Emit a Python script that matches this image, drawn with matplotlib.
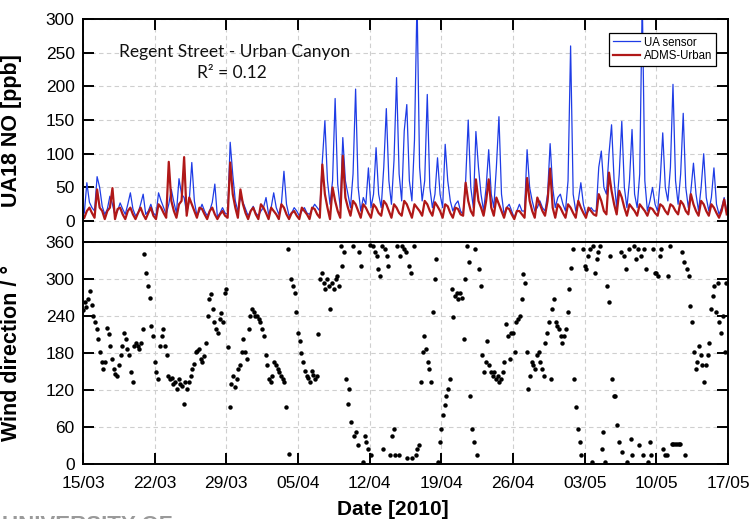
import numpy as np
import pandas as pd
import matplotlib
matplotlib.use('Agg')
import matplotlib.pyplot as plt
import matplotlib.dates as mdates

plt.rcParams['font.family'] = ['Liberation Sans', 'DejaVu Sans']

# NO [ppb], 4 readings per day (03, 09, 15, 21 h), one row per day from 15/03
ua_no = [
    [12, 57, 28, 20], [15, 66, 50, 22], [10, 18, 37, 25], [8, 15, 27, 18],
    [10, 25, 42, 18], [8, 12, 25, 40], [10, 15, 25, 12], [8, 42, 30, 20],
    [10, 25, 47, 28], [12, 63, 40, 35], [12, 30, 87, 30], [8, 15, 25, 15],
    [8, 15, 28, 55], [6, 12, 20, 12], [10, 117, 69, 30], [15, 35, 28, 18],
    [8, 15, 22, 12], [8, 15, 20, 35], [10, 20, 42, 20], [10, 25, 74, 25],
    [8, 12, 20, 15], [8, 15, 20, 12], [10, 18, 25, 20], [15, 89, 149, 60],
    [25, 60, 182, 55], [20, 124, 60, 40], [20, 70, 196, 50], [15, 35, 25, 79],
    [20, 40, 109, 40], [20, 80, 167, 60], [25, 90, 213, 70], [30, 134, 173, 60],
    [30, 120, 330, 80], [30, 60, 188, 50], [20, 40, 94, 40], [20, 114, 60, 30],
    [15, 25, 30, 15], [10, 60, 150, 50], [20, 133, 80, 40], [15, 50, 106, 40],
    [20, 80, 155, 40], [10, 20, 25, 15], [5, 15, 25, 15], [15, 106, 50, 30],
    [15, 20, 30, 20], [15, 40, 115, 50], [20, 35, 40, 25], [15, 60, 260, 40],
    [15, 30, 57, 25], [10, 15, 20, 15], [15, 80, 104, 50], [40, 100, 143, 60],
    [20, 70, 148, 50], [20, 60, 136, 40], [20, 70, 330, 60], [15, 30, 50, 25],
    [15, 60, 131, 50], [30, 80, 203, 60], [25, 70, 160, 50], [20, 45, 86, 40],
    [15, 50, 100, 35], [15, 35, 79, 25], [10, 20, 35, 15],
]
adms_no = [
    [5, 15, 20, 12], [5, 47, 20, 15], [3, 15, 20, 49], [3, 18, 20, 10],
    [3, 15, 20, 10], [3, 12, 20, 10], [3, 12, 20, 8], [3, 25, 20, 12],
    [5, 88, 30, 15], [5, 25, 30, 95], [8, 35, 25, 15], [5, 20, 18, 10],
    [3, 15, 20, 10], [3, 10, 15, 8], [5, 87, 40, 20], [5, 47, 25, 12],
    [3, 15, 20, 10], [3, 25, 20, 12], [3, 20, 15, 10], [3, 25, 20, 10],
    [3, 12, 15, 8], [3, 20, 15, 10], [3, 20, 18, 10], [5, 84, 40, 20],
    [3, 50, 30, 15], [5, 97, 35, 20], [8, 30, 25, 15], [5, 25, 20, 12],
    [5, 25, 20, 12], [8, 30, 25, 15], [5, 25, 20, 12], [8, 30, 25, 15],
    [5, 25, 20, 15], [8, 30, 25, 15], [8, 28, 22, 15], [5, 25, 22, 12],
    [5, 20, 18, 10], [8, 57, 30, 15], [8, 62, 30, 20], [8, 30, 62, 20],
    [8, 35, 25, 15], [5, 20, 18, 10], [3, 15, 15, 10], [5, 64, 30, 15],
    [5, 35, 25, 15], [8, 30, 78, 20], [5, 25, 20, 12], [5, 25, 20, 12],
    [5, 30, 20, 12], [5, 20, 15, 10], [8, 40, 30, 15], [10, 72, 45, 25],
    [10, 45, 35, 20], [8, 25, 20, 15], [8, 25, 20, 15], [8, 20, 18, 12],
    [8, 25, 22, 15], [10, 25, 22, 15], [10, 30, 25, 15], [10, 40, 25, 15],
    [8, 30, 25, 15], [8, 25, 20, 12], [5, 15, 32, 10],
]

# wind direction [deg], 6 readings per day (00, 04, 08, 12, 16, 20 h)
wind_dir = [
    [250, 262, 255, 268, 280, 258], [240, 230, 219, 203, 181, 165],
    [154, 165, 221, 210, 192, 170], [154, 146, 143, 160, 176, 192],
    [213, 203, 186, 176, 149, 133], [192, 197, 192, 186, 197, 219],
    [340, 310, 289, 270, 224, 208], [165, 149, 138, 192, 208, 219],
    [192, 176, 143, 138, 140, 130], [133, 122, 138, 130, 127, 98],
    [133, 122, 133, 143, 154, 162], [181, 184, 186, 170, 165, 175],
    [197, 240, 267, 275, 251, 230], [219, 213, 235, 245, 230, 278],
    [283, 189, 92, 130, 143, 125], [138, 154, 160, 181, 203, 181],
    [170, 219, 240, 251, 246, 240], [240, 235, 230, 219, 208, 176],
    [160, 138, 133, 143, 165, 160], [154, 149, 143, 138, 133, 92],
    [348, 16, 300, 289, 278, 246], [213, 200, 180, 165, 150, 143],
    [140, 133, 150, 145, 138, 143], [211, 300, 310, 294, 283, 300],
    [289, 251, 294, 283, 300, 305], [289, 353, 321, 343, 138, 98],
    [122, 68, 353, 46, 52, 30], [343, 321, 3, 46, 36, 25],
    [355, 14, 353, 343, 337, 316], [305, 353, 25, 348, 337, 321],
    [14, 46, 57, 14, 353, 14], [337, 353, 348, 343, 9, 321],
    [310, 9, 353, 14, 25, 30], [133, 181, 208, 186, 165, 154],
    [133, 246, 300, 332, 3, 36], [57, 79, 95, 111, 122, 138],
    [283, 238, 273, 278, 267, 278], [270, 203, 300, 353, 327, 111],
    [57, 36, 348, 14, 316, 289], [176, 149, 165, 200, 160, 149],
    [143, 149, 138, 143, 133, 138], [149, 165, 227, 208, 170, 213],
    [213, 181, 230, 235, 240, 267], [308, 294, 181, 122, 143, 165],
    [160, 154, 176, 181, 165, 154], [143, 197, 213, 230, 138, 251],
    [267, 230, 224, 219, 208, 197], [208, 219, 246, 283, 318, 348],
    [138, 92, 57, 36, 14, 348], [321, 316, 337, 348, 3, 353],
    [310, 332, 343, 353, 25, 52], [3, 289, 262, 337, 138, 111],
    [111, 63, 36, 343, 19, 337], [316, 3, 348, 41, 14, 353],
    [332, 348, 30, 337, 14, 348], [316, 3, 36, 14, 348, 310],
    [310, 305, 337, 348, 25, 14], [14, 305, 353, 32, 32, 32],
    [32, 32, 32, 343, 327, 14], [316, 305, 256, 230, 181, 154],
    [165, 192, 176, 160, 133, 160], [176, 197, 251, 273, 289, 246],
    [294, 230, 213, 240, 181, 294],
]

date_ticks = pd.date_range('2010-03-15', '2010-05-17', freq='7D')

ua = np.array(ua_no, dtype=float).ravel()
adms = np.array(adms_no, dtype=float).ravel()
wd = np.array(wind_dir, dtype=float).ravel()
t_no = pd.Timestamp('2010-03-15 03:00') + pd.to_timedelta(np.arange(len(ua)) * 6, unit='h')
t_wd = pd.Timestamp('2010-03-15 00:00') + pd.to_timedelta(np.arange(len(wd)) * 4, unit='h')

fig = plt.figure(figsize=(7.52, 5.19), dpi=100)
ax1 = fig.add_axes([0.1104, 0.5337, 0.8577, 0.4297])
ax2 = fig.add_axes([0.1104, 0.1060, 0.8577, 0.4277], sharex=ax1)

ax1.plot(t_no, ua, color='#1e3ce6', lw=0.9, label='UA sensor')
ax1.plot(t_no, adms, color='#b01818', lw=1.6, label='ADMS-Urban')
ax1.set_ylim(-31, 300)
ax1.set_yticks(np.arange(0, 301, 50))

ax2.plot(t_wd, wd, 'o', color='black', ms=3.2, mew=0)
ax2.set_ylim(0, 360)
ax2.set_yticks(np.arange(0, 361, 60))

ax2.set_xlim(date_ticks[0], date_ticks[-1])
ax2.set_xticks(date_ticks)
ax2.xaxis.set_major_formatter(mdates.DateFormatter('%d/%m'))

for ax in (ax1, ax2):
    ax.grid(True, color='#cfcfcf', ls=(0, (4, 3)), lw=0.8)
    ax.set_axisbelow(True)
    for s in ax.spines.values():
        s.set_linewidth(1.4)
    ax.tick_params(axis='both', direction='in', length=8, width=1.4,
                   labelsize=12.5, right=True, pad=6)

ax1.tick_params(axis='x', top=True, bottom=False, labelbottom=False)
ax2.tick_params(axis='x', top=False, bottom=True, pad=9)

ax1.set_ylabel('UA18 NO [ppb]', fontsize=15.5, fontweight='bold')
ax2.set_ylabel('Wind direction / \u00b0', fontsize=15.5, fontweight='bold')
ax1.yaxis.set_label_coords(-0.095, 0.5)
ax2.yaxis.set_label_coords(-0.095, 0.5)
fig.text(0.5226, 0.019, 'Date [2010]', fontsize=15, fontweight='bold',
         ha='center', va='center')

ax1.text(0.2357, 0.852, 'Regent Street - Urban Canyon', transform=ax1.transAxes,
         family='Lato', fontsize=12.5, ha='center', va='center', color='#111111')
ax1.text(0.231, 0.758, 'R\u00b2 = 0.12', transform=ax1.transAxes,
         family='Lato', fontsize=12.5, ha='center', va='center', color='#111111')

leg = ax1.legend(loc='upper right', bbox_to_anchor=(0.981, 0.937), borderaxespad=0,
                 fontsize=8.3, handlelength=2.4, handletextpad=0.3,
                 labelspacing=0.15, borderpad=0.3, fancybox=False, framealpha=1)
leg.get_frame().set_edgecolor('black')
leg.get_frame().set_linewidth(0.9)

# logo lettering cut by the lower edge of the figure
fig.text(0.003, -0.012, 'UNIVERSITY OF', fontsize=16, fontweight='bold',
         color='#9a9a9a', ha='left', va='center')

fig.savefig('out.png', dpi=100)
